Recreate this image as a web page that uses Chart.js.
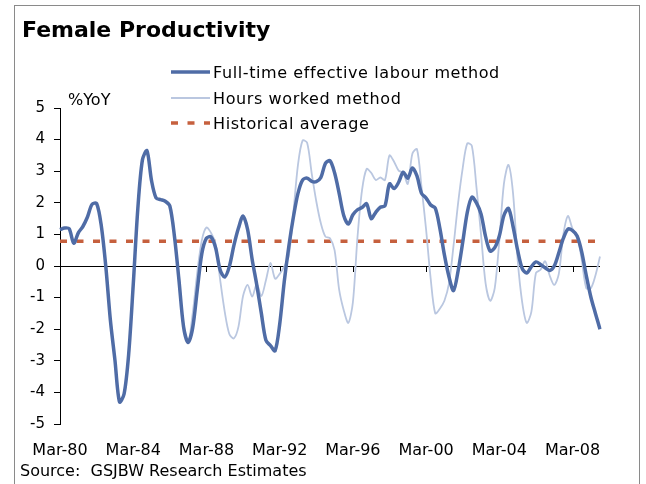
<!DOCTYPE html>
<html>
<head>
<meta charset="utf-8">
<script src="https://cdn.jsdelivr.net/npm/chart.js@4.4.1/dist/chart.umd.min.js"></script>
<style>
  html, body { margin: 0; padding: 0; background: #fff; }
  body { width: 646px; height: 484px; position: relative; overflow: hidden; font-family: "DejaVu Sans", Verdana, sans-serif; color: #000; }
  #frame { position: absolute; left: 14px; top: 5px; width: 626px; height: 500px; border: 1px solid #8a8a8a; box-sizing: border-box; }
  #chart { position: absolute; left: 0; top: 0; }
  .txt { position: absolute; white-space: nowrap; line-height: 1; }
  #title { left: 22px; top: 19px; font-size: 22px; font-weight: bold; }
  #unit { left: 68px; top: 92px; font-size: 16px; }
  #source { left: 20px; top: 463px; font-size: 16px; }
  .legend-row { position: absolute; left: 168px; height: 20px; display: flex; align-items: center; font-size: 16px; letter-spacing: 0.6px; white-space: nowrap; }
  .legend-row svg { margin-right: 3px; }
</style>
</head>
<body>
<div id="frame"></div>
<canvas id="chart" width="646" height="484"></canvas>
<div id="title" class="txt">Female Productivity</div>
<div id="unit" class="txt">%YoY</div>
<div id="legend"></div>
<div id="source" class="txt">Source:&nbsp; GSJBW Research Estimates</div>

<script>
// Female productivity, % YoY, quarterly from Mar-80

// Full-time effective labour method
const fullTime = [
    1.15, 1.2, 1.18, 0.72, 1.05, 1.25, 1.55, 1.95, 1.98, 1.3,
    0.0, -1.7, -2.97, -4.3, -4.05, -2.8, -0.6, 1.8, 3.35, 3.65,
    2.7, 2.15, 2.1, 2.05, 1.9, 0.95, -0.45, -1.92, -2.42, -1.95,
    -0.75, 0.4, 0.88, 0.92, 0.58, -0.13, -0.35, -0.02, 0.65, 1.2,
    1.58, 1.15, 0.2, -0.6, -1.5, -2.35, -2.52, -2.68, -1.85, -0.5,
    0.62, 1.55, 2.3, 2.72, 2.78, 2.68, 2.67, 2.8, 3.25, 3.33,
    2.95, 2.3, 1.6, 1.33, 1.62, 1.78, 1.85, 1.97, 1.5, 1.7,
    1.86, 1.9, 2.6, 2.45, 2.65, 2.97, 2.78, 3.1, 2.85, 2.3,
    2.15, 1.93, 1.83, 1.2, 0.35, -0.34, -0.78, -0.15, 0.75, 1.7,
    2.18, 2.0, 1.65, 0.93, 0.47, 0.58, 0.95, 1.6, 1.82, 1.25,
    0.5, -0.08, -0.22, -0.02, 0.13, 0.05, -0.06, -0.14, 0.0, 0.42,
    0.88, 1.17, 1.12, 0.95, 0.45, -0.3, -0.98, -1.5, -2.0
];

// Hours worked method
const hoursWorked = [
    1.15, 1.2, 1.18, 0.72, 1.05, 1.25, 1.55, 1.95, 1.98, 1.3,
    0.0, -1.7, -2.97, -4.3, -4.05, -2.8, -0.6, 1.8, 3.35, 3.65,
    2.7, 2.15, 2.1, 2.05, 1.9, 0.95, -0.45, -1.92, -2.42, -1.5,
    -0.2, 0.82, 1.22, 1.05, 0.7, -0.44, -1.45, -2.15, -2.29, -1.92,
    -0.95, -0.6, -0.97, -0.57, -0.95, -0.45, 0.1, -0.4, -0.25, -0.02,
    0.32, 1.7, 3.2, 3.97, 3.9, 2.93, 2.05, 1.35, 0.93, 0.88,
    0.5, -0.75, -1.4, -1.8, -1.15, 0.9, 2.4, 3.07, 2.95, 2.72,
    2.8, 2.72, 3.5, 3.3, 3.02, 2.95, 2.6, 3.55, 3.7, 2.5,
    1.15, -0.4, -1.5, -1.35, -1.1, -0.55, 0.65, 2.0, 3.1, 3.88,
    3.8, 2.5, 1.0, -0.55, -1.1, -0.7, 0.8, 2.6, 3.2, 2.3,
    0.2, -1.15, -1.8, -1.45, -0.22, -0.12, 0.15, -0.3, -0.6, -0.25,
    1.0, 1.58, 1.18, 0.95, 0.2, -0.7, -0.7, -0.3, 0.3
];

// Historical average
const historicalAverage = 0.78;

const tickLabels = ['Mar-80', 'Mar-84', 'Mar-88', 'Mar-92', 'Mar-96', 'Mar-00', 'Mar-04', 'Mar-08'];
const yTicks = [5, 4, 3, 2, 1, 0, -1, -2, -3, -4, -5];

const quarterMonths = ['Mar', 'Jun', 'Sep', 'Dec'];
const firstYear = 1980;

const colors = {
    fullTime: '#4f6ca6',
    hours: '#bac7e0',
    average: '#c6603e'
};

function buildQuarters(count) {
    const out = [];
    for (let i = 0; i < count; i++) {
        const yr = (firstYear + Math.floor(i / 4)) % 100;
        out.push(quarterMonths[i % 4] + '-' + String(yr).padStart(2, '0'));
    }
    return out;
}

const quarters = buildQuarters(fullTime.length);

// small tick marks hanging below the zero line
const zeroTicks = {
    id: 'zeroTicks',
    beforeDatasetsDraw(chart) {
        const ctx = chart.ctx;
        const xs = chart.scales.x;
        const y0 = chart.scales.y.getPixelForValue(0);
        ctx.save();
        ctx.strokeStyle = '#000';
        ctx.lineWidth = 1;
        quarters.forEach((q, i) => {
            if (!tickLabels.includes(q) || i === 0) return;
            const x = Math.round(xs.getPixelForValue(i)) + 0.5;
            ctx.beginPath();
            ctx.moveTo(x, y0);
            ctx.lineTo(x, y0 + 6);
            ctx.stroke();
        });
        ctx.restore();
    }
};

const chart = new Chart(document.getElementById('chart'), {
    type: 'line',
    data: {
        labels: quarters,
        datasets: [
            {
                label: 'Full-time effective labour method',
                data: fullTime,
                borderColor: colors.fullTime,
                borderWidth: 3.5,
                pointRadius: 0,
                tension: 0.3
            },
            {
                label: 'Hours worked method',
                data: hoursWorked,
                borderColor: colors.hours,
                borderWidth: 1.8,
                pointRadius: 0,
                tension: 0.3
            },
            {
                label: 'Historical average',
                data: quarters.map(() => historicalAverage),
                borderColor: colors.average,
                borderWidth: 3.5,
                borderDash: [7, 9.5],
                pointRadius: 0,
                tension: 0
            }
        ]
    },
    options: {
        responsive: false,
        animation: false,
        devicePixelRatio: 1,
        layout: { padding: { top: 108, right: 46, bottom: 0, left: 0 } },
        plugins: {
            legend: { display: false },
            tooltip: { enabled: false },
            title: { display: false }
        },
        scales: {
            x: {
                grid: { display: false },
                border: { display: false },
                afterFit: (scale) => { scale.height = 60; },
                ticks: {
                    autoSkip: false,
                    maxRotation: 0,
                    minRotation: 0,
                    padding: 9,
                    color: '#000',
                    font: { family: 'DejaVu Sans', size: 16 },
                    callback: function(value) {
                        const lbl = this.getLabelForValue(value);
                        return tickLabels.includes(lbl) ? lbl : null;
                    }
                }
            },
            y: {
                min: -5,
                max: 5,
                afterFit: (scale) => { scale.width = 60; },
                afterBuildTicks: (scale) => { scale.ticks = yTicks.map(v => ({ value: v })); },
                border: { display: true, color: '#000', width: 1 },
                grid: {
                    color: (c) => (c.tick && c.tick.value === 0 ? '#000' : 'rgba(0,0,0,0)'),
                    tickColor: '#000',
                    tickLength: 6,
                    lineWidth: 1
                },
                ticks: {
                    padding: 9,
                    color: '#000',
                    font: { family: 'DejaVu Sans', size: 15 }
                }
            }
        }
    },
    plugins: [zeroTicks]
});

// legend drawn as html next to the plot
function buildLegend() {
    const box = document.getElementById('legend');
    const rows = [62, 88, 113];
    chart.data.datasets.forEach((ds, i) => {
        const row = document.createElement('div');
        row.className = 'legend-row';
        row.style.top = rows[i] + 'px';
        const dash = ds.borderDash ? ds.borderDash.join(',') : '';
        const w = ds.borderDash ? 3.5 : (i === 0 ? 3.5 : 1.8);
        row.innerHTML =
            `<svg width="42" height="20"><line x1="3" y1="10" x2="42" y2="10" stroke="${ds.borderColor}" stroke-width="${w}" stroke-dasharray="${dash}"/></svg>` +
            `<span>${ds.label}</span>`;
        box.appendChild(row);
    });
}

buildLegend();
</script>
</body>
</html>
